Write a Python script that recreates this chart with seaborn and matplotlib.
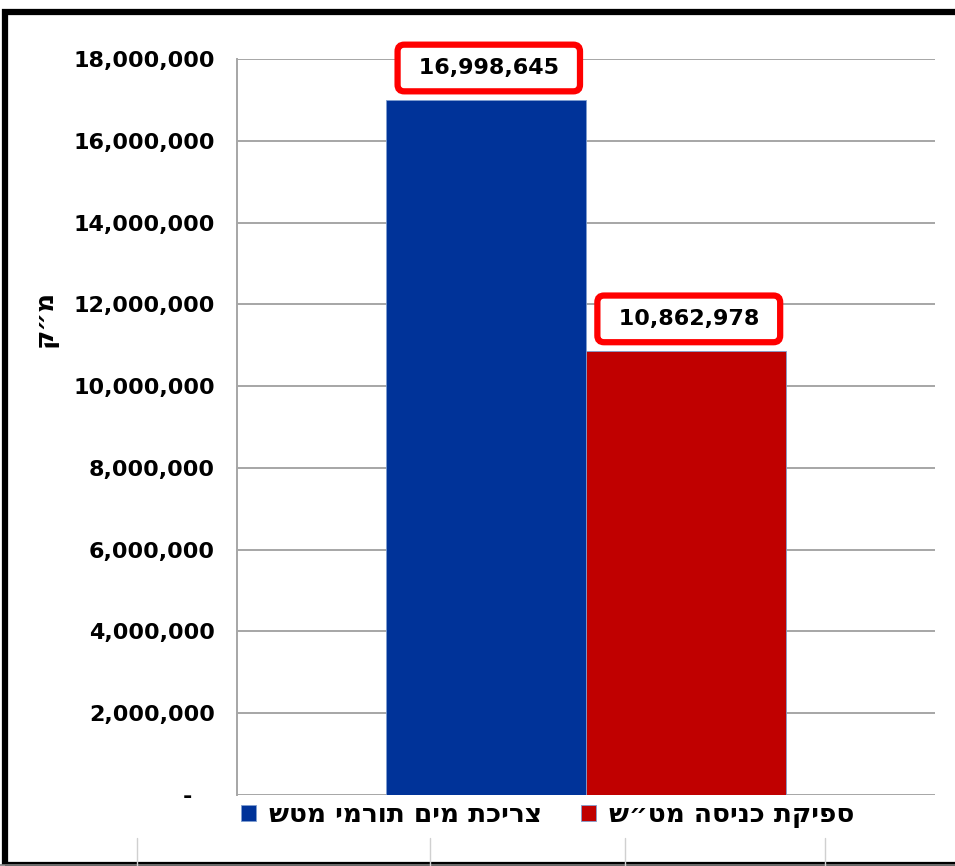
import numpy as np
import pandas as pd
import matplotlib
matplotlib.use("Agg")
import matplotlib.pyplot as plt
from matplotlib.ticker import FuncFormatter, MultipleLocator
from matplotlib.lines import Line2D
from matplotlib.patches import Rectangle
import seaborn as sns

# data
series = ["צריכת מים תורמי מטש", "ספיקת כניסה מט״ש"]
values = [16998645, 10862978]
colors = ["#003399", "#C00000"]
y_label = "מ״ק"


def rtl(s):
    # matplotlib has no bidi support, so flip hebrew strings for display
    return s[::-1]


df = pd.DataFrame({"cat": [""] * len(series), "series": series, "value": values})

sns.set_style("white")
plt.rcParams["font.family"] = ["DejaVu Sans"]
plt.rcParams["font.weight"] = "bold"
plt.rcParams["text.color"] = "black"
plt.rcParams["ytick.labelcolor"] = "black"

fig = plt.figure(figsize=(9.55, 8.66), dpi=100)
ax = fig.add_axes([237 / 955, 71 / 866, 698 / 955, 736 / 866])

sns.barplot(data=df, x="cat", y="value", hue="series", palette=colors,
            width=0.573, gap=0, saturation=1, ax=ax, legend=True,
            edgecolor="#7f9fd0", linewidth=0.6)

ax.set_xlim(-0.5, 0.5)
ax.set_ylim(0, 18000000)
ax.yaxis.set_major_locator(MultipleLocator(2000000))
ax.yaxis.set_major_formatter(FuncFormatter(lambda v, p: "-\u2002\u2002" if v == 0 else f"{v:,.0f}"))
ax.grid(axis="y", color="#a6a6a6", lw=1.4)
ax.set_axisbelow(True)
for s in ["top", "right", "bottom"]:
    ax.spines[s].set_visible(False)
ax.spines["left"].set_color("#a6a6a6")
ax.spines["left"].set_linewidth(1.4)
ax.tick_params(axis="y", length=7, width=1.2, color="#a6a6a6", pad=9, labelsize=16)
ax.tick_params(axis="x", length=0, labelbottom=False)
ax.set_xlabel("")
ax.set_ylabel("")
fig.text(45 / 955, 1 - 318 / 866, rtl(y_label), rotation=90, ha="center", va="center",
         fontsize=19, fontweight="bold")

# value labels in red rounded boxes
for cont in ax.containers:
    for bar in cont:
        h = bar.get_height()
        ax.annotate(f" {h:,.0f} ", xy=(bar.get_x() + bar.get_width() / 2, h),
                    xytext=(2, 23), textcoords="offset points", ha="center", va="center",
                    fontsize=16, fontweight="bold",
                    bbox=dict(boxstyle="round,pad=0.6,rounding_size=0.3", fc="white", ec="red", lw=4.5))

handles, labels = ax.get_legend_handles_labels()
ax.legend(handles, [rtl(l) for l in labels], loc="upper left", ncol=2, frameon=False,
          bbox_to_anchor=(241 / 955, 1 - 802 / 866), bbox_transform=fig.transFigure,
          borderpad=0, borderaxespad=0, handlelength=0.55, handleheight=0.55,
          handletextpad=0.5, columnspacing=1.5, prop={"size": 19, "weight": "bold"})

# outer frame and stray cell lines from the source sheet
fig.add_artist(Rectangle((5 / 955, 1 / 866), 1.2, 1 - 13 / 866, transform=fig.transFigure,
                         fill=False, ec="black", lw=4.5))
fig.add_artist(Line2D([0, 1], [1.5 / 866, 1.5 / 866], transform=fig.transFigure, color="#808080", lw=1.2))
for xp in [137, 430, 625, 825]:
    fig.add_artist(Line2D([xp / 955, xp / 955], [0, 28 / 866], transform=fig.transFigure,
                          color="#d0d0d0", lw=1))

fig.savefig("out.png", dpi=100)
